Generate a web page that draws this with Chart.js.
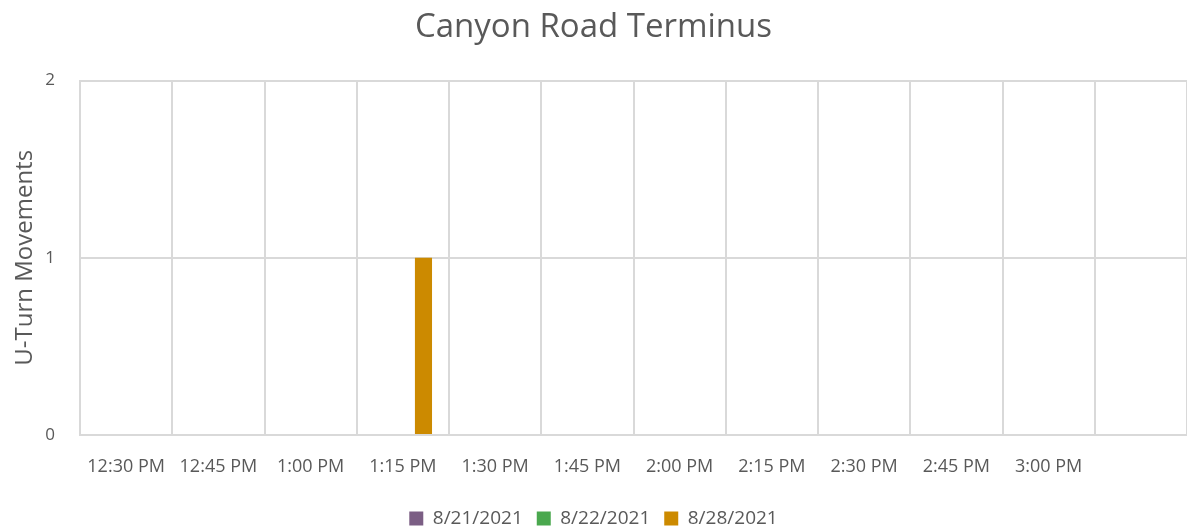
<!DOCTYPE html>
<html>
<head>
<meta charset="utf-8">
<script src="https://cdn.jsdelivr.net/npm/chart.js@4/dist/chart.umd.min.js"></script>
<style>
  html, body { margin: 0; padding: 0; background: #ffffff; }
  #wrap { width: 1187px; height: 531px; }
</style>
</head>
<body>
<div id="wrap"><canvas id="chart"></canvas></div>
<script>
// Time slots (the last slot has no label in the original)
const times = ['12:30 PM', '12:45 PM', '1:00 PM', '1:15 PM', '1:30 PM', '1:45 PM',
    '2:00 PM', '2:15 PM', '2:30 PM', '2:45 PM', '3:00 PM', ''];

// U-turn counts per survey day
const day0821 = [0, 0, 0, 0, 0, 0, 0, 0, 0, 0, 0, 0];
const day0822 = [0, 0, 0, 0, 0, 0, 0, 0, 0, 0, 0, 0];
const day0828 = [0, 0, 0, 1, 0, 0, 0, 0, 0, 0, 0, 0];

const yTicks = [0, 1, 2];

const textColor = '#595959';
const gridColor = '#d9d9d9';
const fontFamily = "'Open Sans', 'Noto Sans', sans-serif";

let ctx = document.getElementById('chart').getContext('2d');
let uturnChart = new Chart(ctx, {
    type: 'bar',
    data: {
        labels: times,
        datasets: [
            { label: '8/21/2021', data: day0821, backgroundColor: '#7b5e84' },
            { label: '8/22/2021', data: day0822, backgroundColor: '#4aa84e' },
            { label: '8/28/2021', data: day0828, backgroundColor: '#cc8a00' }
        ]
    },
    options: {
        responsive: true,
        maintainAspectRatio: false,
        animation: false,
        categoryPercentage: 0.67,
        barPercentage: 0.83,
        // negative bottom padding pushes the legend a little lower
        layout: { padding: { left: 0, right: 0, top: 2, bottom: -7 } },
        plugins: {
            title: {
                display: true,
                text: 'Canyon Road Terminus',
                color: textColor,
                font: { size: 33, family: fontFamily, weight: 'normal' },
                padding: { top: 6, bottom: 33 }
            },
            legend: {
                position: 'bottom',
                labels: {
                    color: textColor,
                    boxWidth: 14,
                    boxHeight: 14,
                    padding: 14,
                    font: { size: 19, family: fontFamily }
                }
            },
            tooltip: { enabled: false }
        },
        scales: {
            x: {
                afterFit: axis => { axis.height = 60; },
                grid: { color: gridColor, lineWidth: 2, offset: true, drawTicks: false },
                border: { color: gridColor, width: 2 },
                ticks: {
                    color: textColor,
                    padding: 21,
                    maxRotation: 0,
                    autoSkip: false,
                    font: { size: 18, family: fontFamily }
                }
            },
            y: {
                min: 0,
                max: 2,
                afterBuildTicks: axis => { axis.ticks = yTicks.map(v => ({ value: v })); },
                afterFit: axis => { axis.width = 80; },
                grid: { color: gridColor, lineWidth: 2, drawTicks: false },
                border: { color: gridColor, width: 2 },
                ticks: {
                    color: textColor,
                    padding: 25,
                    font: { size: 17, family: fontFamily }
                },
                title: {
                    display: true,
                    text: 'U-Turn Movements',
                    color: textColor,
                    font: { size: 24, family: fontFamily },
                    padding: { top: 11, bottom: 0 }
                }
            }
        }
    }
});
</script>
</body>
</html>
